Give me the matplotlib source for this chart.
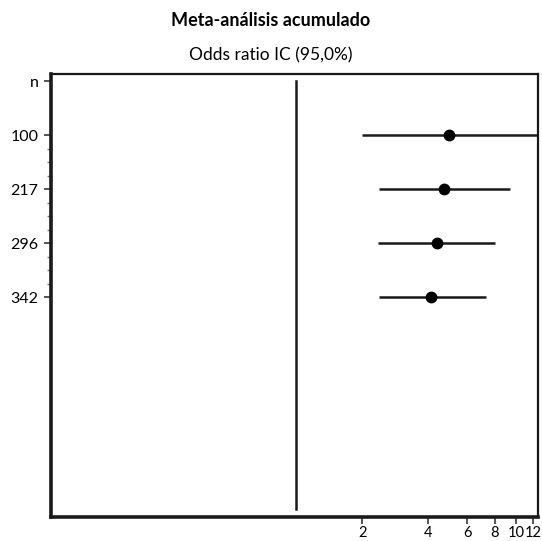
"""Cumulative meta-analysis forest plot (odds ratio, 95% CI)."""

import matplotlib

matplotlib.use("Agg")
import matplotlib.pyplot as plt
from matplotlib.ticker import FixedLocator, NullFormatter, NullLocator

plt.rcParams["font.family"] = ["Lato", "DejaVu Sans"]

# data
row_labels = ["n", "100", "217", "296", "342"]
odds_ratio = [4.94, 4.69, 4.36, 4.13]
ci_low = [2.0, 2.39, 2.37, 2.39]
ci_high = [14.0, 9.38, 8.02, 7.30]
x_ticks = [2, 4, 6, 8, 10, 12]

fig = plt.figure(figsize=(5.42, 5.41), dpi=100)
ax = fig.add_axes([0.0941, 0.0444, 0.8985, 0.8188])

rows = list(range(1, len(odds_ratio) + 1))
for y, lo, hi, orr in zip(rows, ci_low, ci_high, odds_ratio):
    ax.plot([lo, hi], [y, y], color="#1a1a1a", linewidth=1.8, solid_capstyle="butt")
    ax.plot(orr, y, marker="o", markersize=7.5, color="black", linestyle="none")

# line of no effect
ax.axvline(1.0, ymin=0.018, ymax=0.984, color="#1a1a1a", linewidth=1.8)

ax.set_xscale("log")
ax.set_xlim(0.077, 12.6)
ax.set_ylim(8.07, -0.13)

ax.xaxis.set_major_locator(FixedLocator(x_ticks))
ax.xaxis.set_minor_locator(NullLocator())
ax.xaxis.set_minor_formatter(NullFormatter())
ax.set_xticklabels([str(t) for t in x_ticks])

ax.set_yticks(range(len(row_labels)))
ax.set_yticklabels(row_labels)
minor_y = [r + q for r in rows[:-1] for q in (0.25, 0.5, 0.75)]
ax.set_yticks(minor_y, minor=True)

ax.tick_params(axis="both", which="major", length=5, width=1.4, color="#555555",
               labelsize=11.5, pad=4)
ax.tick_params(axis="y", which="minor", length=3, width=1.0, color="#777777")
ax.tick_params(axis="x", pad=1.5, labelsize=10.5)

for side in ("left", "bottom"):
    ax.spines[side].set_linewidth(2.6)
for side in ("top", "right"):
    ax.spines[side].set_linewidth(1.6)
for sp in ax.spines.values():
    sp.set_color("#1a1a1a")

fig.text(0.5, 0.962, "Meta-análisis acumulado", ha="center", va="center",
         fontsize=13, fontweight="bold")
fig.text(0.5, 0.897, "Odds ratio IC (95,0%)", ha="center", va="center", fontsize=12.5)

fig.savefig("out.png", dpi=100)
